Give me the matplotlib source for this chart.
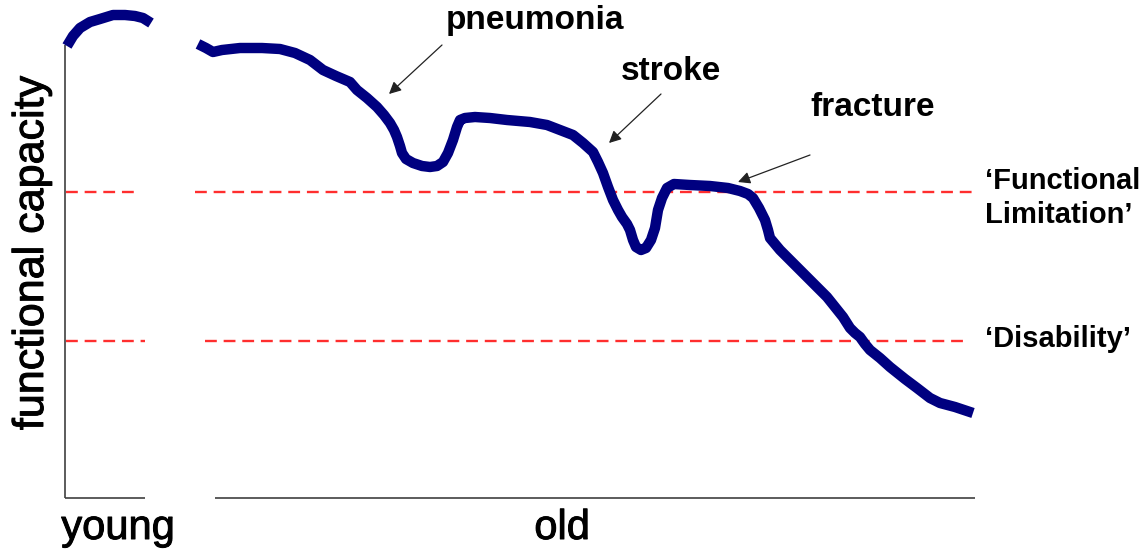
import matplotlib
matplotlib.use("Agg")
import matplotlib.pyplot as plt
import matplotlib.patheffects as pe

plt.rcParams['font.family'] = ['Liberation Sans', 'DejaVu Sans']

# Data (x = age position, y = vertical position with the axis inverted: small = high capacity)
young_x = [67, 73, 80, 90, 100, 113, 125, 135, 143, 151]
young_y = [46, 36, 28, 22, 19, 15, 15, 16, 18, 23]

old_x = [198, 206, 213, 222, 240, 262, 280, 295, 310, 323, 336, 350, 357, 367, 377, 384,
         390, 394, 397, 400, 402, 406, 413, 422, 430, 437, 443, 448, 453, 457, 460, 465,
         475, 490, 507, 530, 547, 560, 573, 583, 593, 598, 603, 608, 613, 618, 622, 627,
         630, 633, 636, 641, 646, 651, 655, 658, 662, 667, 674, 690, 710, 728, 740, 748,
         753, 759, 765, 768, 770, 780, 793, 807, 817, 827, 835, 843, 850, 855, 860, 865,
         870, 880, 890, 905, 917, 930, 940, 955, 973]
old_y = [44, 48, 52, 50, 48, 48, 49, 53, 60, 70, 76, 82, 90, 98, 107, 115,
         123, 130, 137, 146, 153, 159, 163, 166, 167, 166, 162, 153, 140, 127, 120, 118,
         117, 118, 120, 122, 125, 130, 135, 143, 152, 162, 173, 187, 200, 210, 217, 224,
         230, 240, 247, 250, 248, 240, 228, 210, 198, 188, 184, 185, 186, 188, 191, 194,
         198, 208, 220, 230, 238, 250, 263, 277, 287, 297, 307, 317, 328, 333, 337, 344,
         350, 358, 367, 379, 388, 398, 403, 407, 413]

levels_y = [192, 341]
level_labels = ['\u2018Functional\nLimitation\u2019', '\u2018Disability\u2019']
level_label_y = [198, 339]
level_gaps = [(135, 195), (145, 205)]
level_ends = [978, 969]

events = ['pneumonia', 'stroke', 'fracture']
event_text_xy = [(535, 20), (671, 72), (873, 108)]
event_tail_xy = [(442, 45), (661, 94), (810, 155)]
event_head_xy = [(389, 94), (609, 143), (738, 182)]

x_labels = ['young', 'old']
x_label_x = [118, 562]

fig = plt.figure(figsize=(11.47, 5.53), dpi=100)
ax = fig.add_axes([0, 0, 1, 1])
ax.set_xlim(0, 1147)
ax.set_ylim(553, 0)
ax.axis('off')

navy = '#000080'
red = '#ff2e2e'
axc = '#404040'

# axes lines
ax.plot([65, 65], [45, 498], color=axc, lw=1.2, solid_capstyle='butt')
ax.plot([65, 145], [497.5, 497.5], color=axc, lw=1.2, solid_capstyle='butt')
ax.plot([215, 975], [497.5, 497.5], color=axc, lw=1.2, solid_capstyle='butt')

# dashed reference levels
for ly, (g0, g1), lab, lyy, lend in zip(levels_y, level_gaps, level_labels, level_label_y, level_ends):
    for xa, xb in [(66, g0), (g1, lend)]:
        ax.plot([xa, xb], [ly, ly], color=red, lw=1.7, linestyle=(0, (5.0, 2.9)))
    ax.text(985, lyy, lab, fontsize=21, fontweight='bold', ha='left', va='center',
            linespacing=1.25)

# curve
ax.plot(young_x, young_y, color=navy, lw=7.5, solid_capstyle='butt', solid_joinstyle='round')
ax.plot(old_x, old_y, color=navy, lw=7.5, solid_capstyle='butt', solid_joinstyle='round')

# event annotations
for name, txy, tail, head in zip(events, event_text_xy, event_tail_xy, event_head_xy):
    ax.text(txy[0], txy[1], name, fontsize=24, fontweight='bold', ha='center', va='center')
    ax.annotate('', xy=head, xytext=tail,
                arrowprops=dict(arrowstyle='-|>', color='#222222', lw=0.9,
                                mutation_scale=18, shrinkA=0, shrinkB=0))

# labels
heavy = [pe.withStroke(linewidth=0.7, foreground='black')]
for lab, lx in zip(x_labels, x_label_x):
    ax.text(lx, 528, lab, fontsize=30, ha='center', va='center', path_effects=heavy)
ax.text(32, 253, 'functional capacity', fontsize=31, rotation=90, ha='center', va='center',
        path_effects=heavy)

fig.savefig('out.png', dpi=100)
